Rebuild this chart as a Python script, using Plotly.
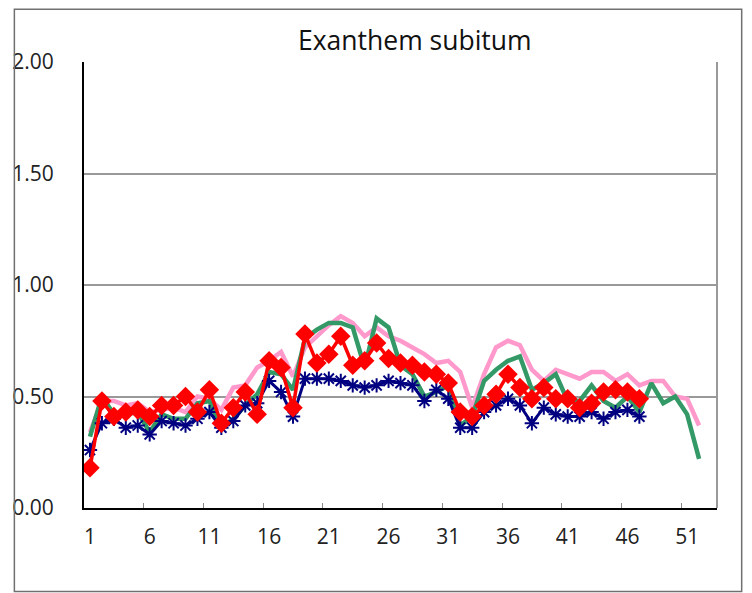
import plotly.graph_objects as go

weeks = list(range(1, 54))

# Series values (per week)
pink_vals = [0.34, 0.48, 0.48, 0.46, 0.47, 0.43, 0.44, 0.45, 0.43, 0.50,
             0.49, 0.44, 0.54, 0.55, 0.63, 0.66, 0.70, 0.59, 0.72, 0.77,
             0.82, 0.86, 0.83, 0.77, 0.81, 0.77, 0.75, 0.72, 0.69, 0.65,
             0.66, 0.61, 0.45, 0.60, 0.72, 0.75, 0.73, 0.62, 0.57, 0.62,
             0.60, 0.58, 0.61, 0.61, 0.57, 0.60, 0.55, 0.57, 0.57, 0.50,
             0.49, 0.37]

green_vals = [0.32, 0.50, 0.42, 0.42, 0.43, 0.34, 0.42, 0.40, 0.40, 0.47,
              0.48, 0.36, 0.40, 0.46, 0.51, 0.61, 0.60, 0.53, 0.76, 0.80,
              0.83, 0.83, 0.81, 0.63, 0.85, 0.81, 0.64, 0.60, 0.50, 0.52,
              0.55, 0.37, 0.41, 0.57, 0.62, 0.66, 0.68, 0.53, 0.56, 0.60,
              0.48, 0.48, 0.55, 0.48, 0.45, 0.50, 0.43, 0.56, 0.47, 0.50,
              0.42, 0.22]

navy_vals = [0.26, 0.38, 0.40, 0.36, 0.37, 0.33, 0.39, 0.38, 0.37, 0.40,
             0.43, 0.36, 0.39, 0.46, 0.47, 0.57, 0.52, 0.41, 0.58, 0.58,
             0.58, 0.57, 0.55, 0.54, 0.55, 0.57, 0.56, 0.55, 0.48, 0.53,
             0.49, 0.36, 0.36, 0.43, 0.46, 0.49, 0.46, 0.38, 0.45, 0.42,
             0.41, 0.41, 0.43, 0.40, 0.43, 0.44, 0.41]

red_vals = [0.18, 0.48, 0.41, 0.43, 0.44, 0.41, 0.46, 0.46, 0.50, 0.43,
            0.53, 0.38, 0.45, 0.52, 0.42, 0.66, 0.63, 0.45, 0.78, 0.65,
            0.69, 0.77, 0.64, 0.66, 0.74, 0.67, 0.65, 0.64, 0.61, 0.60,
            0.56, 0.43, 0.41, 0.46, 0.51, 0.60, 0.54, 0.49, 0.54, 0.49,
            0.49, 0.45, 0.47, 0.52, 0.53, 0.52, 0.49]

x_tick_weeks = [1, 6, 11, 16, 21, 26, 31, 36, 41, 46, 51]
x_tick_text = [str(w) for w in x_tick_weeks]
y_tick_vals = [0, 0.5, 1.0, 1.5, 2.0]
y_tick_text = ["0.00", "0.50", "1.00", "1.50", "2.00"]
title_text = "Exanthem subitum"

FONT = "Open Sans"

fig = go.Figure()
fig.add_trace(go.Scatter(x=weeks[:len(pink_vals)], y=pink_vals, mode="lines",
                         line=dict(color="#FF99CC", width=4.5), showlegend=False))
fig.add_trace(go.Scatter(x=weeks[:len(green_vals)], y=green_vals, mode="lines",
                         line=dict(color="#339966", width=4.5), showlegend=False))
fig.add_trace(go.Scatter(x=weeks[:len(navy_vals)], y=navy_vals, mode="lines+markers",
                         line=dict(color="#000080", width=3),
                         marker=dict(symbol="asterisk-open", size=12,
                                     line=dict(color="#000080", width=2)),
                         showlegend=False))
fig.add_trace(go.Scatter(x=weeks[:len(red_vals)], y=red_vals, mode="lines+markers",
                         line=dict(color="#FF0000", width=3.5),
                         marker=dict(symbol="diamond", size=15, color="#FF0000"),
                         showlegend=False))

fig.update_layout(
    width=752, height=593,
    margin=dict(l=82, r=35, t=62, b=85),
    paper_bgcolor="white", plot_bgcolor="white",
    font=dict(family=FONT, size=21, color="#222222"),
    annotations=[dict(text=title_text, xref="paper", yref="paper",
                      x=0.523, y=1.05, xanchor="center", yanchor="middle",
                      showarrow=False, font=dict(family=FONT, size=26.5, color="#111111"))],
    shapes=[
        dict(type="rect", xref="paper", yref="paper", x0=-0.110, x1=1.039,
             y0=-0.187, y1=1.118, line=dict(color="#707070", width=1.5)),
        dict(type="line", xref="paper", yref="paper", x0=1, x1=1, y0=0, y1=1,
             line=dict(color="#999999", width=2)),
    ],
)

fig.update_xaxes(
    range=[0.5, 53.5], tickmode="array", tickvals=x_tick_weeks, ticktext=x_tick_text,
    ticks="", showgrid=False, zeroline=False,
    showline=True, linecolor="black", linewidth=2,
    ticklabelstandoff=9,
    minor=dict(tickmode="array", tickvals=[w - 0.5 for w in x_tick_weeks[1:]],
               ticks="inside", ticklen=5, tickcolor="#888888", tickwidth=1, showgrid=False),
)
fig.update_yaxes(
    range=[0, 2], tickmode="array", tickvals=y_tick_vals, ticktext=y_tick_text,
    ticks="", showgrid=True, gridcolor="#999999", gridwidth=1.5, zeroline=False,
    showline=True, linecolor="black", linewidth=2,
    ticklabelstandoff=24,
)

fig.write_html("out.html", config={"displayModeBar": False},
               post_script="document.body.style.margin='0px';")
